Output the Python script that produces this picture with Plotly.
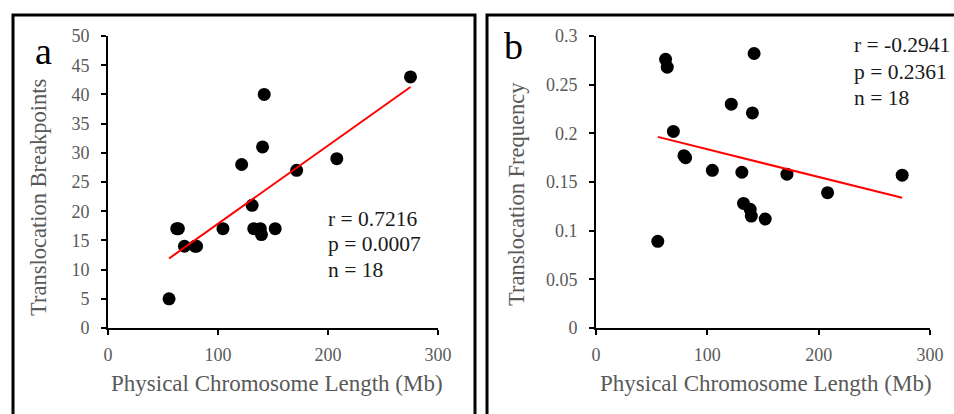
import numpy as np
import plotly.graph_objects as go

# Chromosome data (18 chromosomes)
length_mb = [55.5, 62.5, 64, 69.5, 79, 80.5, 104.5, 121.5, 131, 132.5,
             138.5, 139.5, 140.5, 142, 152, 171.5, 208, 275]
breakpoints = [5, 17, 17, 14, 14, 14, 17, 28, 21, 17,
               17, 16, 31, 40, 17, 27, 29, 43]
frequency = [0.089, 0.276, 0.268, 0.202, 0.177, 0.175, 0.162, 0.230, 0.160, 0.128,
             0.122, 0.115, 0.221, 0.282, 0.112, 0.158, 0.139, 0.157]

stats_a = ["r = 0.7216", "p = 0.0007", "n = 18"]
stats_b = ["r = -0.2941", "p = 0.2361", "n = 18"]

W, H = 954, 414
FONT = "Liberation Serif"
GREY = "#595959"


def px(x):
    return x / W


def py(y):
    return 1 - y / H


def fit_line(x, y):
    x = np.asarray(x, float)
    y = np.asarray(y, float)
    slope, intercept = np.polyfit(x, y, 1)
    xs = np.array([x.min(), x.max()])
    return xs, slope * xs + intercept


fig = go.Figure()

# panel a: breakpoints vs length
fig.add_trace(go.Scatter(x=length_mb, y=breakpoints, mode="markers",
                         marker=dict(size=13, color="black"),
                         xaxis="x", yaxis="y", showlegend=False))
lx, ly = fit_line(length_mb, breakpoints)
fig.add_trace(go.Scatter(x=lx, y=ly, mode="lines",
                         line=dict(color="red", width=2),
                         xaxis="x", yaxis="y", showlegend=False))

# panel b: frequency vs length
fig.add_trace(go.Scatter(x=length_mb, y=frequency, mode="markers",
                         marker=dict(size=13, color="black"),
                         xaxis="x2", yaxis="y2", showlegend=False))
lx2, ly2 = fit_line(length_mb, frequency)
fig.add_trace(go.Scatter(x=lx2, y=ly2, mode="lines",
                         line=dict(color="red", width=2),
                         xaxis="x2", yaxis="y2", showlegend=False))

axis_common = dict(showline=True, linecolor="black", linewidth=2,
                   ticks="outside", ticklen=5, tickwidth=2, tickcolor="black",
                   showgrid=False, zeroline=False, automargin=False,
                   tickfont=dict(family=FONT, size=18, color=GREY))

ydom = [py(328), py(36)]
fig.update_layout(
    width=W, height=H, autosize=False,
    margin=dict(l=0, r=0, t=0, b=0, pad=0),
    font=dict(family=FONT, color=GREY),
    paper_bgcolor="white", plot_bgcolor="white",
    xaxis=dict(domain=[px(108), px(438)], range=[0, 300], dtick=100,
               anchor="y", ticklabelstandoff=4, **axis_common),
    yaxis=dict(domain=ydom, range=[0, 50], dtick=5,
               anchor="x", ticklabelstandoff=8, **axis_common),
    xaxis2=dict(domain=[px(596), px(930)], range=[0, 300], dtick=100,
                anchor="y2", ticklabelstandoff=4, **axis_common),
    yaxis2=dict(domain=ydom, range=[0, 0.3], dtick=0.05,
                anchor="x2", ticklabelstandoff=8, **axis_common),
)

# panel frames
fig.add_shape(type="rect", xref="paper", yref="paper",
              x0=px(13), x1=px(475), y0=-0.05, y1=py(15),
              line=dict(color="black", width=3))
fig.add_shape(type="rect", xref="paper", yref="paper",
              x0=px(487), x1=1.05, y0=-0.05, y1=py(15),
              line=dict(color="black", width=3))

annotations = []


def text(x, y, s, size, color, angle=0, xanchor="center"):
    annotations.append(dict(x=px(x), y=py(y), xref="paper", yref="paper",
                            text=s, showarrow=False, textangle=angle,
                            xanchor=xanchor, yanchor="middle",
                            font=dict(family=FONT, size=size, color=color)))


# panel letters
text(43, 51, "a", 38, "black")
text(513, 46, "b", 38, "black")

# axis titles
text(38, 198, "Translocation Breakpoints", 22.5, GREY, angle=-90)
text(516, 194, "Translocation Frequency", 22.5, GREY, angle=-90)
text(277, 383, "Physical Chromosome Length (Mb)", 23, GREY)
text(766, 383, "Physical Chromosome Length (Mb)", 23, GREY)

# correlation statistics
for s, yy in zip(stats_a, [219, 244, 270]):
    text(326, yy, s, 21.5, "#1a1a1a", xanchor="left")
for s, yy in zip(stats_b, [45, 72, 98]):
    text(852, yy, s, 21.5, "#1a1a1a", xanchor="left")

fig.update_layout(annotations=annotations)

# keep the page exactly the size of the figure
fig.write_html("out.html",
               post_script="document.body.style.margin='0';"
                           "document.body.style.overflow='hidden';")
